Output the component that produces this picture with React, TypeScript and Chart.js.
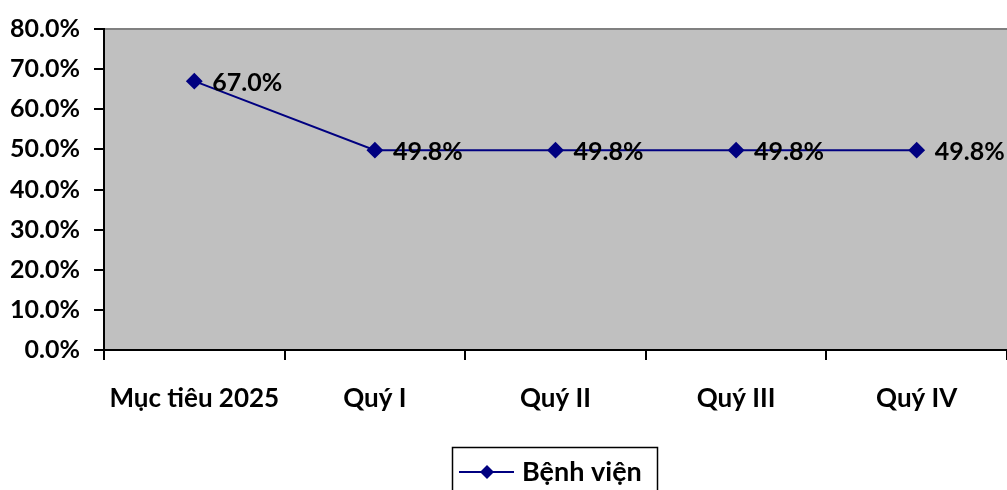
import React, { useEffect, useRef } from "react";
import { Chart, registerables } from "chart.js";

Chart.register(...registerables);

const categories = ["Mục tiêu 2025", "Quý I", "Quý II", "Quý III", "Quý IV"];
const seriesName = "Bệnh viện";
const values = [67.0, 49.8, 49.8, 49.8, 49.8];
const yMin = 0;
const yMax = 80;
const yStep = 10;

const FONT = "Lato, 'Open Sans', sans-serif";
const NAVY = "#000080";

const bgPlugin = {
  id: "plotBg",
  beforeDraw(chart: any) {
    const { ctx, chartArea } = chart;
    ctx.save();
    ctx.fillStyle = "#C0C0C0";
    ctx.fillRect(chartArea.left, chartArea.top, chartArea.right - chartArea.left, chartArea.bottom - chartArea.top);
    ctx.strokeStyle = "#808080";
    ctx.lineWidth = 2;
    ctx.beginPath();
    ctx.moveTo(chartArea.left, chartArea.top);
    ctx.lineTo(chartArea.right, chartArea.top);
    ctx.stroke();
    ctx.restore();
  },
};

const labelPlugin = {
  id: "dataLabels",
  afterDatasetsDraw(chart: any) {
    const { ctx } = chart;
    const meta = chart.getDatasetMeta(0);
    ctx.save();
    ctx.fillStyle = "#000";
    ctx.font = `bold 25px ${FONT}`;
    ctx.textAlign = "left";
    ctx.textBaseline = "middle";
    meta.data.forEach((pt: any, i: number) => {
      ctx.fillText(values[i].toFixed(1) + "%", pt.x + 18, pt.y + 2);
    });
    ctx.restore();
  },
};

const legendPlugin = {
  id: "customLegend",
  afterDraw(chart: any) {
    const { ctx } = chart;
    ctx.save();
    ctx.strokeStyle = "#000";
    ctx.lineWidth = 1.5;
    ctx.strokeRect(452.5, 447.5, 205, 60);
    ctx.strokeStyle = NAVY;
    ctx.lineWidth = 2;
    ctx.beginPath();
    ctx.moveTo(459, 472);
    ctx.lineTo(514, 472);
    ctx.stroke();
    ctx.fillStyle = NAVY;
    ctx.beginPath();
    ctx.moveTo(487, 465);
    ctx.lineTo(494, 472);
    ctx.lineTo(487, 479);
    ctx.lineTo(480, 472);
    ctx.closePath();
    ctx.fill();
    ctx.fillStyle = "#000";
    ctx.font = `bold 27px ${FONT}`;
    ctx.textAlign = "left";
    ctx.textBaseline = "middle";
    ctx.fillText(seriesName, 522, 472);
    ctx.restore();
  },
};

export default function App() {
  const ref = useRef<HTMLCanvasElement | null>(null);
  useEffect(() => {
    document.body.style.margin = "0";
    if (!ref.current) return;
    const chart = new Chart(ref.current, {
      type: "line",
      data: {
        labels: categories,
        datasets: [
          {
            label: seriesName,
            data: values,
            borderColor: NAVY,
            backgroundColor: NAVY,
            borderWidth: 2,
            pointStyle: "rectRot",
            pointRadius: 7,
            pointBackgroundColor: NAVY,
            pointBorderColor: NAVY,
            tension: 0,
          },
        ],
      },
      options: {
        responsive: false,
        animation: false,
        events: [],
        layout: { autoPadding: false, padding: { top: 28, left: 0, right: 0, bottom: 0 } },
        plugins: { legend: { display: false }, tooltip: { enabled: false } },
        scales: {
          x: {
            type: "category",
            offset: true,
            grid: { offset: true, drawOnChartArea: false, drawTicks: true, tickLength: 10, color: "#000", lineWidth: 2 },
            border: { color: "#000", width: 2 },
            ticks: { color: "#000", font: { family: FONT, size: 26, weight: "bold" }, padding: 23, maxRotation: 0, autoSkip: false },
            afterFit(scale: any) {
              scale.height = 140;
              scale.paddingRight = 0;
              scale.paddingLeft = 0;
            },
          },
          y: {
            min: yMin,
            max: yMax,
            grid: { drawOnChartArea: false, drawTicks: true, tickLength: 10, color: "#000", lineWidth: 2 },
            border: { color: "#000", width: 2 },
            ticks: {
              stepSize: yStep,
              color: "#000",
              padding: 14,
              font: { family: FONT, size: 25, weight: "bold" },
              callback: (v: any) => Number(v).toFixed(1) + "%",
            },
            afterFit(scale: any) {
              scale.width = 104;
            },
          },
        },
      },
      plugins: [bgPlugin, labelPlugin, legendPlugin],
    });
    return () => chart.destroy();
  }, []);
  return (
    <div style={{ width: 1007, height: 490, background: "#fff" }}>
      <canvas ref={ref} width={1007} height={490} />
    </div>
  );
}
